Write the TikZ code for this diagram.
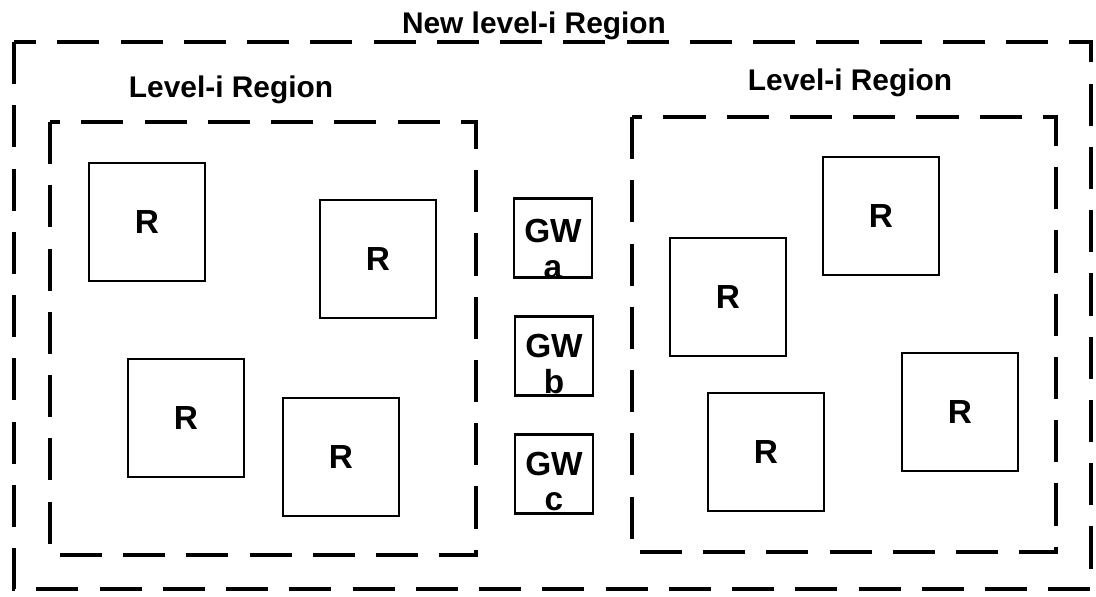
\documentclass[tikz,border=0pt]{standalone}
\usepackage{fontspec}
\setmainfont{Liberation Sans}
\begin{document}
\begin{tikzpicture}[x=0.02cm,y=-0.02cm,
 rbox/.style={draw,line width=1.6pt,minimum width=2.32cm,minimum height=2.36cm,inner sep=0pt,font=\fontsize{19}{22}\selectfont\bfseries},
 gwbox/.style={draw,line width=1.6pt,minimum width=1.56cm,minimum height=1.58cm,inner sep=0pt},
 gwtext/.style={anchor=base,inner sep=0pt,font=\fontsize{19}{22}\selectfont\bfseries},
 region/.style={line width=2pt,dash pattern=on 24pt off 12pt},
 title/.style={anchor=base,inner sep=0pt,font=\fontsize{17}{20}\selectfont\bfseries}]
 \useasboundingbox (0,0) rectangle (1096,596);
 \draw[region,line width=2.8pt] (14,42) rectangle (1091,589);
 \draw[region] (50,122) rectangle (476,555);
 \draw[region] (632,117) rectangle (1056,552);
 \node[title] (newreg) at (534,33) {New level-i Region};
 \node[title] (leftreg) at (231,97) {Level-i Region};
 \node[title] (rightreg) at (850,90) {Level-i Region};
 \node[rbox] (r1) at (147,222) {R};
 \node[rbox] (r2) at (378,259) {R};
 \node[rbox] (r3) at (186,418) {R};
 \node[rbox] (r4) at (341,457) {R};
 \node[rbox] (r5) at (881,216) {R};
 \node[rbox] (r6) at (728,297) {R};
 \node[rbox] (r7) at (960,412) {R};
 \node[rbox] (r8) at (766,452) {R};
 \node[gwbox] (gwa) at (553,238) {};
 \node[gwbox] (gwb) at (554,356) {};
 \node[gwbox] (gwc) at (554,474) {};
 \node[gwtext] (gwa-t) at (553,242) {GW};
 \node[gwtext] (gwa-l) at (553,278) {a};
 \node[gwtext] (gwb-t) at (554,357) {GW};
 \node[gwtext] (gwb-l) at (554,393) {b};
 \node[gwtext] (gwc-t) at (554,475) {GW};
 \node[gwtext] (gwc-l) at (554,510) {c};
\end{tikzpicture}
\end{document}
